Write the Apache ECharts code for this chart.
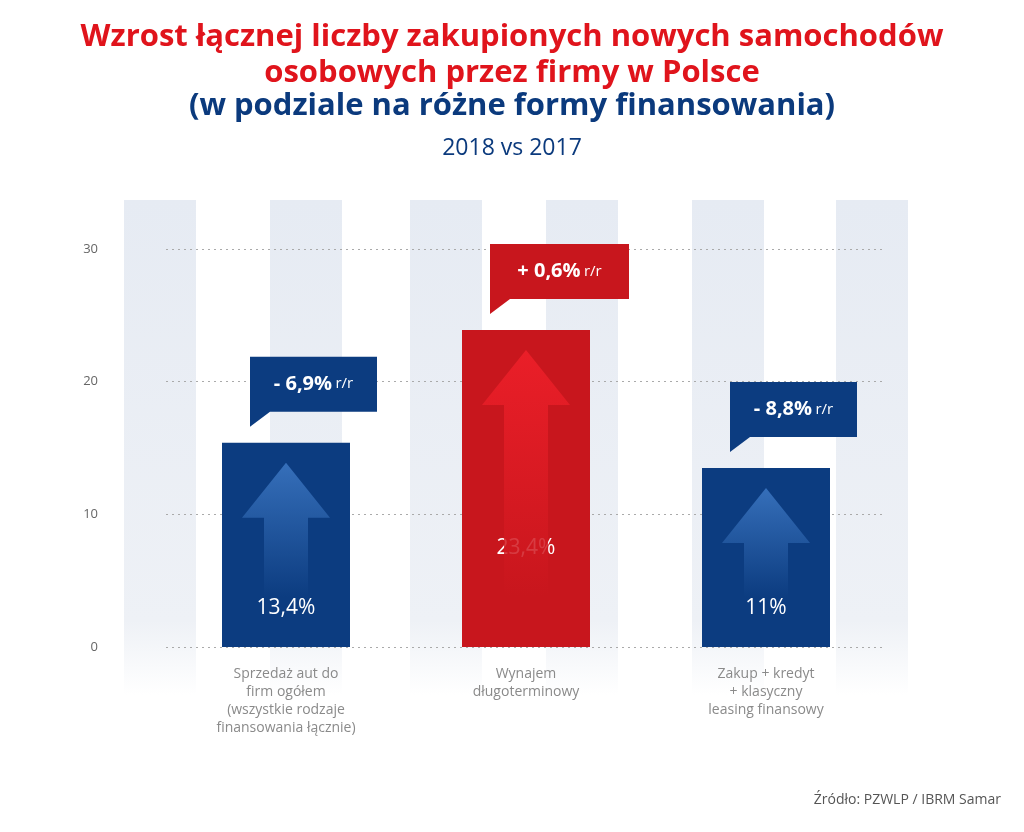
<!DOCTYPE html>
<html><head><meta charset="utf-8">
<script src="https://cdn.jsdelivr.net/npm/echarts@6/dist/echarts.min.js"></script>
<style>html,body{margin:0;background:#fff}#c{width:1024px;height:832px}</style>
</head><body><div id="c"></div>
<script>
var categories = ['Sprzedaż aut do\nfirm ogółem\n(wszystkie rodzaje\nfinansowania łącznie)', 'Wynajem\ndługoterminowy', 'Zakup + kredyt\n+ klasyczny\nleasing finansowy'];
var barHeights = [15.4, 23.9, 13.5];
var barLabels = ['13,4%', '23,4%', '11%'];
var changes = ['- 6,9%', '+ 0,6%', '- 8,8%'];
var ticks = [0, 10, 20, 30];

var BLUE = '#0c3c80', RED = '#c8161d';
var colors = [BLUE, RED, BLUE];

var chart = echarts.init(document.getElementById('c'));

// tło: pionowe pasy
var bands = [];
[124, 270, 410, 546, 692, 836].forEach(function (x) {
    bands.push({
        type: 'rect', z: -10, shape: {x: x, y: 200, width: 72, height: 495},
        style: {fill: new echarts.graphic.LinearGradient(0, 0, 0, 1, [
            {offset: 0, color: '#e6ebf3'}, {offset: 0.85, color: '#eef1f6'}, {offset: 1, color: '#ffffff'}])}
    });
});

chart.setOption({
    animation: false,
    title: [
        {text: 'Wzrost łącznej liczby zakupionych nowych samochodów\nosobowych przez firmy w Polsce', left: 'center', top: 14,
            textStyle: {color: '#e0141c', fontSize: 31, fontWeight: 'bold', fontFamily: 'Open Sans', lineHeight: 36}},
        {text: '(w podziale na różne formy finansowania)', left: 'center', top: 86,
            textStyle: {color: '#0b3a7d', fontSize: 31, fontWeight: 'bold', fontFamily: 'Open Sans'}},
        {text: '2018 vs 2017', left: 'center', top: 132,
            textStyle: {color: '#0b3a7d', fontSize: 23, fontWeight: 'normal', fontFamily: 'Open Sans'}},
        {text: 'Źródło: PZWLP / IBRM Samar', right: 18, top: 788,
            textStyle: {color: '#555', fontSize: 14, fontWeight: 'normal', fontFamily: 'Open Sans'}}
    ],
    grid: {left: 166, right: 138, top: 249, bottom: 185},
    xAxis: {
        type: 'category', data: categories,
        axisLine: {show: false}, axisTick: {show: false},
        axisLabel: {color: '#8a8a8a', fontSize: 14, lineHeight: 18, margin: 18, fontFamily: 'Open Sans'}
    },
    yAxis: {
        type: 'value', min: 0, max: 30, interval: 10,
        axisLabel: {color: '#666', fontSize: 13, margin: 68, fontFamily: 'Open Sans'},
        splitLine: {lineStyle: {color: '#aaa', type: [2, 4], width: 1}}
    },
    graphic: bands,
    series: [{
        type: 'bar', barWidth: 128,
        data: barHeights.map(function (v, i) {
            return {value: v, itemStyle: {color: colors[i]},
                label: {position: 'insideBottom', distance: i === 1 ? 88 : 28}};
        }),
        label: {show: true, color: '#fff', fontSize: 21, fontFamily: 'Open Sans',
            formatter: function (p) { return barLabels[p.dataIndex]; }}
    }]
});

// splitLine dopiero od x=124 do 908 – uzupełnienie pasów jest w tle
var g = bands.slice();
barHeights.forEach(function (v, i) {
    var top = chart.convertToPixel({seriesIndex: 0}, [i, v]);
    var base = chart.convertToPixel({seriesIndex: 0}, [i, 0]);
    var cx = top[0];
    // strzałka
    var aTop = top[1] + 20, aMid = aTop + 55, aBot = base[1] - 50;
    var arrowFill = new echarts.graphic.LinearGradient(0, 0, 0, 1, [
        {offset: 0, color: i === 1 ? '#f0202a' : '#3d78c4'},
        {offset: 1, color: colors[i]}]);
    g.push({type: 'polygon', z: 20, shape: {points: [[cx, aTop], [cx + 44, aMid], [cx + 22, aMid], [cx + 22, aBot], [cx - 22, aBot], [cx - 22, aMid], [cx - 44, aMid]]},
        style: {fill: arrowFill, opacity: 0.85}});
    // dymek
    var bx = cx - 36, bw = i === 1 ? 139 : 127, by = top[1] - 86, bh = 55;
    g.push({type: 'polygon', z: 30, shape: {points: [[bx, by], [bx + bw, by], [bx + bw, by + bh], [bx + 20, by + bh], [bx, by + bh + 15]]},
        style: {fill: colors[i]}});
    g.push({type: 'text', z: 31, style: {x: bx + bw / 2, y: by + bh / 2, align: 'center', verticalAlign: 'middle',
        text: '{a|' + changes[i] + '} {b|r/r}',
        rich: {a: {fill: '#fff', fontSize: 20, fontWeight: 'bold', fontFamily: 'Open Sans'},
               b: {fill: '#fff', fontSize: 15, fontFamily: 'Open Sans'}}}});
});
chart.setOption({graphic: g});
</script></body></html>
